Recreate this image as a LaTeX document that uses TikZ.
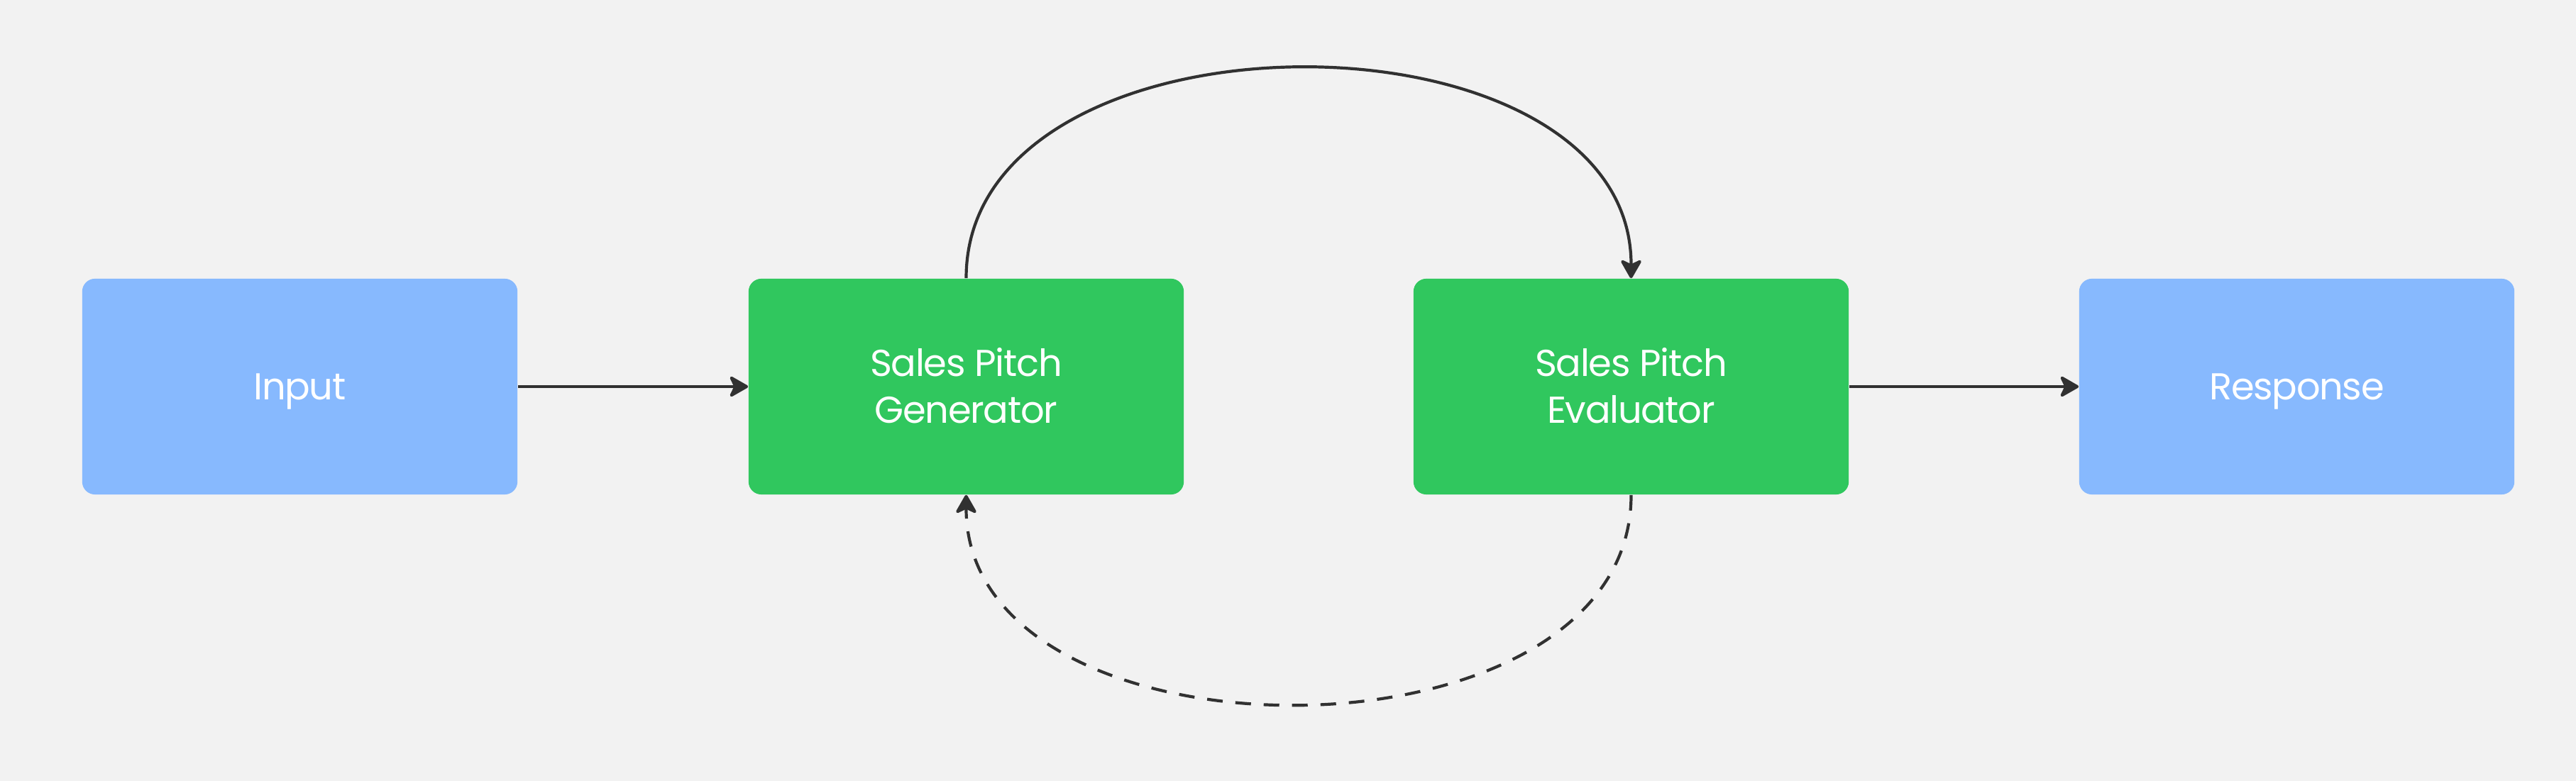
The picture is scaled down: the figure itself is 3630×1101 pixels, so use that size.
\documentclass[tikz,border=0pt]{standalone}
\usepackage{fontspec}
\setmainfont{Poppins}[LetterSpace=-2.5]
\usetikzlibrary{arrows.meta}
\definecolor{bgc}{HTML}{F2F2F2}
\definecolor{bluebox}{HTML}{87B9FE}
\definecolor{greenbox}{HTML}{30C75E}
\definecolor{linec}{HTML}{313131}
\tikzset{
  box/.style={rectangle, rounded corners=0.18cm, minimum width=6.13cm, minimum height=3.04cm,
    inner sep=0pt, text=white, align=center, text height=0.37cm, text depth=0pt,
    font=\fontsize{15}{18.8}\selectfont},
  bluestyle/.style={box, fill=bluebox},
  greenstyle/.style={box, fill=greenbox, text height=1.03cm},
  conn/.style={draw=linec, line width=0.042cm, -{Stealth[length=0.3cm,width=0.34cm,inset=0.08cm,round]}},
  dashconn/.style={conn, dash pattern=on 0.22cm off 0.18cm}
}
\begin{document}
\begin{tikzpicture}[x=0.01cm,y=-0.01cm]
\fill[bgc] (0,0) rectangle (3630,1101);
\useasboundingbox (0,0) rectangle (3630,1101);
\node[bluestyle] (inp) at (422.5,545) {Input};
\node[greenstyle] (gen) at (1361.5,545) {Sales Pitch\\Generator};
\node[greenstyle] (eva) at (2298.5,545) {Sales Pitch\\Evaluator};
\node[bluestyle] (res) at (3236.5,545) {Response};
\draw[conn] (inp.east) -- (gen.west);
\draw[conn] (eva.east) -- (res.west);
\draw[conn] (gen.north) .. controls (1361,-2) and (2299,-2) .. (eva.north);
\draw[dashconn] (eva.south) .. controls (2299,1090) and (1361,1090) .. (gen.south);
\end{tikzpicture}
\end{document}
